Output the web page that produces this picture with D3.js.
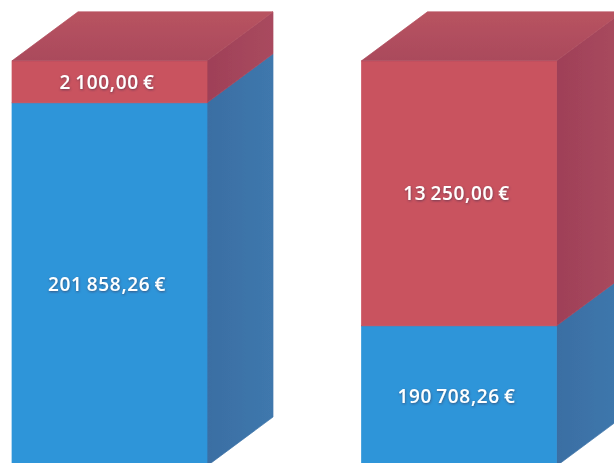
<!DOCTYPE html>
<html>
<head>
<meta charset="utf-8">
<script src="https://cdn.jsdelivr.net/npm/d3@7"></script>
<style>
html,body{margin:0;padding:0;background:#fff;overflow:hidden}
svg{display:block}
text{font-family:"Open Sans",sans-serif;font-weight:600;font-size:19px;letter-spacing:0.7px;word-spacing:-1.5px;fill:#fff;text-anchor:middle}
</style>
</head>
<body>
<script>
var categories = ['A', 'B'];
var blueValues = [201858.26, 190708.26];
var redValues = [2100.00, 13250.00];
var blueLabels = ['201 858,26 €', '190 708,26 €'];
var redLabels = ['2 100,00 €', '13 250,00 €'];

var w = 614, h = 463;
var depthX = 66, depthY = 49;

var svg = d3.select('body').append('svg').attr('width', w).attr('height', h);
var defs = svg.append('defs');

defs.append('filter').attr('id', 'soft').attr('x', '-5%').attr('y', '-5%').attr('width', '110%').attr('height', '110%')
	.append('feGaussianBlur').attr('stdDeviation', 0.6);
var shadow = defs.append('filter').attr('id', 'textShadow');
shadow.append('feDropShadow').attr('dx', 0.5).attr('dy', 1).attr('stdDeviation', 0.9)
	.attr('flood-color', '#3a2a4a').attr('flood-opacity', 0.6);

function gradient(id, c0, c1, vertical){
	var g = defs.append('linearGradient').attr('id', id);
	if(vertical) g.attr('x2', 0).attr('y2', 1);
	g.append('stop').attr('offset', '0%').attr('stop-color', c0);
	g.append('stop').attr('offset', '100%').attr('stop-color', c1);
}
gradient('redSide', '#9f4058', '#a94a5e');
gradient('blueSide', '#3a6ea3', '#3f78ad');
gradient('redTop', '#b85360', '#aa4a5c', true);

var x = d3.scaleBand().domain(categories).range([12, 556.5]).paddingInner(0.442).paddingOuter(0);
// the value axis does not start at zero, 50 euro is about one pixel
var y = d3.scaleLinear().domain([183700, 204000]).range([466, 60]);

var stacks = categories.map(function(c, i){
	return [
		{cat: c, y0: 183700, y1: blueValues[i], front: '#2f95d9', side: 'url(#blueSide)', label: blueLabels[i]},
		{cat: c, y0: blueValues[i], y1: blueValues[i] + redValues[i], front: '#c9535f', side: 'url(#redSide)', label: redLabels[i]}
	];
});

function sidePoints(d){
	var r = x(d.cat) + x.bandwidth();
	return [[r, y(d.y0)], [r + depthX, y(d.y0) - depthY], [r + depthX, y(d.y1) - depthY], [r, y(d.y1)]].join(' ');
}
function topPoints(d){
	var l = x(d.cat), r = l + x.bandwidth(), t = y(d.y1);
	return [[l, t], [l + depthX, t - depthY], [r + depthX, t - depthY], [r, t]].join(' ');
}

var g = svg.append('g').attr('filter', 'url(#soft)');
var bars = g.selectAll('g.bar').data(stacks).enter().append('g').attr('class', 'bar');

// faces get a thin stroke of their own colour so no white seam shows between them
var segs = bars.selectAll('g.seg').data(function(d){ return d; }).enter().append('g').attr('class', 'seg');
segs.append('polygon').attr('points', sidePoints)
	.attr('fill', function(d){ return d.side; })
	.attr('stroke', function(d){ return d.side; })
	.attr('stroke-width', 0.7);
segs.append('rect')
	.attr('x', function(d){ return x(d.cat); })
	.attr('y', function(d){ return y(d.y1); })
	.attr('width', x.bandwidth())
	.attr('height', function(d){ return y(d.y0) - y(d.y1); })
	.attr('fill', function(d){ return d.front; })
	.attr('stroke', function(d){ return d.front; })
	.attr('stroke-width', 0.7);
bars.append('polygon').attr('points', function(d){ return topPoints(d[1]); })
	.attr('fill', 'url(#redTop)')
	.attr('stroke', 'url(#redTop)')
	.attr('stroke-width', 0.7);

svg.selectAll('text.label').data(d3.merge(stacks)).enter().append('text').attr('class', 'label')
	.attr('x', function(d){ return x(d.cat) + x.bandwidth() / 2 - 2.5; })
	.attr('y', function(d){ return (y(d.y0) + y(d.y1)) / 2 + 7; })
	.attr('filter', 'url(#textShadow)')
	.text(function(d){ return d.label; });
</script>
</body>
</html>
